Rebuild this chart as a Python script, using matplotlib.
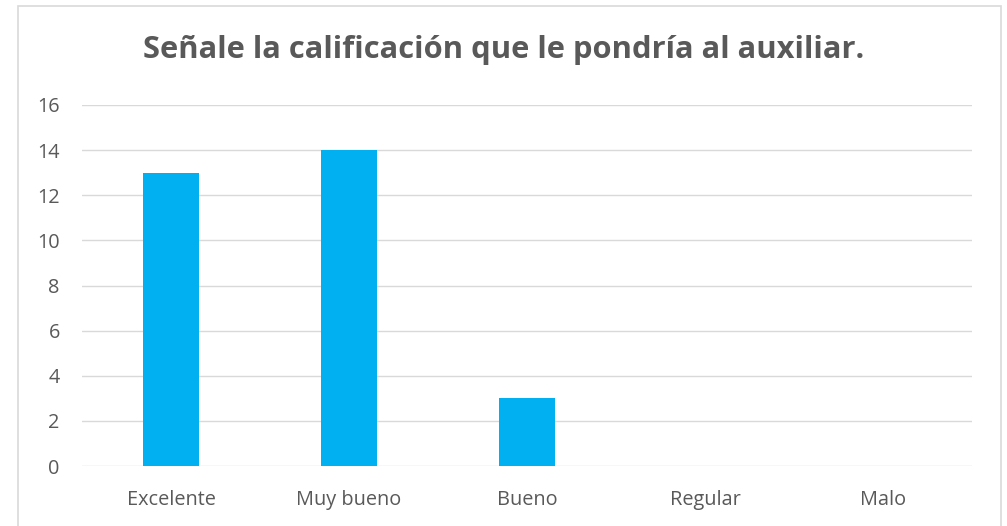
import matplotlib
matplotlib.use("Agg")
import matplotlib.pyplot as plt
from matplotlib.patches import Rectangle

categorias = ['Excelente', 'Muy bueno', 'Bueno', 'Regular', 'Malo']
valores = [13, 14, 3, 0, 0]
ticks_y = [0, 2, 4, 6, 8, 10, 12, 14, 16]

plt.rcParams['font.family'] = ['Open Sans', 'DejaVu Sans']

W, H = 1007, 526
fig = plt.figure(figsize=(W / 100, H / 100), dpi=100)
ax = fig.add_axes([82 / W, 1 - 466 / H, (972 - 82) / W, (466 - 105) / H])

x = list(range(len(categorias)))
ax.bar(x, valores, width=0.315, color='#00B0F0', zorder=3)

ax.set_xlim(-0.5, len(categorias) - 0.5)
ax.set_ylim(0, 16)
ax.set_yticks(ticks_y)
ax.set_xticks(x)
ax.set_xticklabels(categorias)
ax.grid(axis='y', color='#d9d9d9', linewidth=1, zorder=0)
for s in ax.spines.values():
    s.set_visible(False)
ax.tick_params(axis='both', length=0, colors='#595959', labelsize=14.3)
ax.tick_params(axis='y', pad=16)
ax.tick_params(axis='x', pad=17)

fig.text(0.5, 1 - 50 / H, 'Señale la calificación que le pondría al auxiliar.',
         ha='center', va='center', fontsize=22.2, fontweight='bold', color='#595959')

# borde del gráfico
fig.patches.append(Rectangle((18 / W, -0.05), (1001 - 18) / W, 1.05 - 6 / H,
                             transform=fig.transFigure, fill=False,
                             edgecolor='#d9d9d9', linewidth=1.2))

fig.savefig('out.png', dpi=100)
